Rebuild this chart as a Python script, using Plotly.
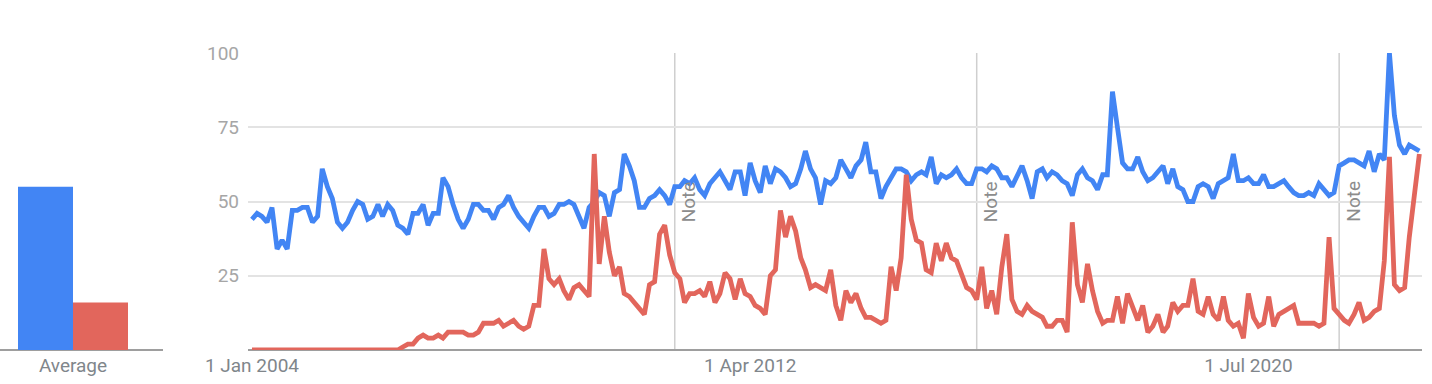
import plotly.graph_objects as go
import pandas as pd

# ---------------- data ----------------
months = pd.date_range("2004-01-01", periods=233, freq="MS")

blue_series = [
    44, 46, 45, 43, 48, 34, 37, 34, 47, 47, 48, 48,   # 2004
    43, 45, 61, 55, 51, 43, 41, 43, 47, 50, 49, 44,   # 2005
    45, 49, 45, 49, 47, 42, 41, 39, 46, 46, 49, 42,   # 2006
    46, 46, 58, 55, 49, 44, 41, 44, 49, 49, 47, 47,   # 2007
    44, 48, 49, 52, 48, 45, 43, 41, 45, 48, 48, 45,   # 2008
    46, 49, 49, 50, 49, 45, 41, 48, 50, 53, 52, 45,   # 2009
    53, 54, 66, 62, 57, 48, 48, 51, 52, 54, 52, 49,   # 2010
    55, 55, 57, 56, 58, 54, 52, 56, 58, 60, 57, 54,   # 2011
    60, 60, 52, 63, 57, 53, 62, 56, 61, 60, 58, 55,   # 2012
    56, 61, 67, 61, 58, 49, 57, 56, 58, 64, 61, 58,   # 2013
    62, 64, 70, 60, 60, 51, 55, 58, 61, 61, 60, 57,   # 2014
    59, 60, 59, 65, 56, 59, 58, 59, 61, 58, 56, 56,   # 2015
    61, 61, 60, 62, 61, 58, 58, 55, 59, 62, 57, 51,   # 2016
    60, 61, 58, 60, 59, 57, 56, 52, 59, 61, 58, 57,   # 2017
    54, 59, 59, 87, 75, 63, 61, 61, 65, 60, 57, 58,   # 2018
    60, 62, 56, 61, 55, 54, 50, 50, 55, 56, 55, 51,   # 2019
    56, 57, 58, 66, 57, 57, 58, 56, 56, 59, 55, 55,   # 2020
    56, 57, 55, 53, 52, 52, 53, 52, 56, 54, 52, 53,   # 2021
    62, 63, 64, 64, 63, 62, 67, 60, 66, 64, 100, 79,  # 2022
    69, 66, 69, 68, 67,                               # 2023
]

red_series = [
    0, 0, 0, 0, 0, 0, 0, 0, 0, 0, 0, 0,               # 2004
    0, 0, 0, 0, 0, 0, 0, 0, 0, 0, 0, 0,               # 2005
    0, 0, 0, 0, 0, 0, 1, 2, 2, 4, 5, 4,               # 2006
    4, 5, 4, 6, 6, 6, 6, 5, 5, 6, 9, 9,               # 2007
    9, 10, 8, 9, 10, 8, 7, 8, 15, 15, 34, 24,         # 2008
    22, 24, 20, 17, 21, 22, 20, 18, 66, 29, 45, 33,   # 2009
    25, 28, 19, 18, 16, 14, 12, 22, 23, 39, 42, 32,   # 2010
    26, 24, 16, 19, 19, 20, 18, 23, 16, 19, 26, 24,   # 2011
    17, 24, 19, 18, 15, 14, 12, 25, 27, 47, 38, 45,   # 2012
    40, 31, 27, 21, 22, 21, 20, 27, 15, 10, 20, 16,   # 2013
    19, 14, 11, 11, 10, 9, 10, 28, 20, 31, 59, 44,    # 2014
    37, 36, 27, 26, 36, 30, 36, 31, 30, 26, 21, 20,   # 2015
    17, 28, 14, 20, 12, 28, 39, 17, 13, 12, 15, 13,   # 2016
    12, 11, 8, 8, 10, 10, 6, 43, 22, 16, 29, 20,      # 2017
    13, 9, 10, 10, 18, 9, 19, 15, 10, 15, 6, 8,       # 2018
    12, 6, 8, 16, 13, 15, 15, 24, 13, 12, 18, 12,     # 2019
    10, 18, 10, 8, 9, 4, 19, 11, 8, 9, 18, 8,         # 2020
    12, 13, 14, 15, 9, 9, 9, 9, 8, 9, 38, 14,         # 2021
    12, 10, 9, 12, 16, 10, 11, 13, 14, 30, 65, 22,    # 2022
    20, 21, 38, 54, 66,                               # 2023
]

average_category = ["Average"]
blue_average = [55]
red_average = [16]

note_dates = ["2011-01-01", "2016-01-01", "2022-01-01"]
y_tick_values = [25, 50, 75, 100]
x_tick_dates = ["2004-01-01", "2012-04-01", "2020-07-01"]
x_tick_labels = ["1 Jan 2004", "1 Apr 2012", "1 Jul 2020"]

# ---------------- style ----------------
W, H = 1432, 384
BLUE = "#4285f4"
RED = "#e2665c"
GRID = "#e3e3e3"
AXIS = "#9e9e9e"
FONT = "Roboto"
FS = 19

y_dom = [(H - 350) / H, (H - 53) / H]

fig = go.Figure()

fig.add_trace(go.Bar(x=average_category, y=blue_average, marker_color=BLUE,
                     marker_line_width=0, xaxis="x", yaxis="y", hoverinfo="skip"))
fig.add_trace(go.Bar(x=average_category, y=red_average, marker_color=RED,
                     marker_line_width=0, xaxis="x", yaxis="y", hoverinfo="skip"))

fig.add_trace(go.Scatter(x=months, y=blue_series, mode="lines",
                         line=dict(color=BLUE, width=4.8), xaxis="x2", yaxis="y2"))
fig.add_trace(go.Scatter(x=months, y=red_series, mode="lines",
                         line=dict(color=RED, width=4.8), xaxis="x2", yaxis="y2"))

for d in note_dates:
    fig.add_shape(type="line", xref="x2", yref="y2", x0=d, x1=d, y0=0, y1=100,
                  line=dict(color="#cfcfcf", width=1.5), layer="below")
    fig.add_annotation(x=d, y=50, xref="x2", yref="y2", text="Note", textangle=-90,
                       xshift=14, showarrow=False,
                       font=dict(family=FONT, size=FS, color="#8c8c8c"))

fig.update_layout(
    width=W, height=H,
    autosize=False,
    margin=dict(l=0, r=0, t=0, b=0, pad=0),
    paper_bgcolor="white", plot_bgcolor="white",
    showlegend=False,
    barmode="group", bargap=0.2466, bargroupgap=0,
    font=dict(family=FONT),
    xaxis=dict(domain=[0, 163 / W], type="category", range=[-0.5, 0.6164],
               automargin=False,
               showgrid=False, showline=False, zeroline=False, ticks="",
               ticklabelstandoff=2,
               tickfont=dict(family=FONT, size=FS, color="#80868b"), fixedrange=True),
    yaxis=dict(domain=y_dom, range=[0, 100], showgrid=False, showticklabels=False,
               automargin=False,
               zeroline=True, zerolinecolor=AXIS, zerolinewidth=1.5, fixedrange=True),
    xaxis2=dict(domain=[248 / W, 1422 / W], anchor="y2", type="date",
                range=["2003-12-08", "2023-05-17"], automargin=False,
                tickmode="array", tickvals=x_tick_dates, ticktext=x_tick_labels,
                showgrid=False, showline=False, zeroline=False, ticks="",
                ticklabelstandoff=2,
                tickfont=dict(family=FONT, size=FS, color="#80868b")),
    yaxis2=dict(domain=y_dom, anchor="x2", range=[0, 100], automargin=False,
                tickmode="array", tickvals=y_tick_values,
                showgrid=True, gridcolor=GRID, gridwidth=1.5,
                zeroline=True, zerolinecolor=AXIS, zerolinewidth=1.5,
                showline=False, ticks="", ticklabelstandoff=8,
                tickfont=dict(family=FONT, size=FS, color="#a6a6a6")),
)

fig.write_html("out.html", config={"displayModeBar": False},
               post_script="document.body.style.margin='0';")
